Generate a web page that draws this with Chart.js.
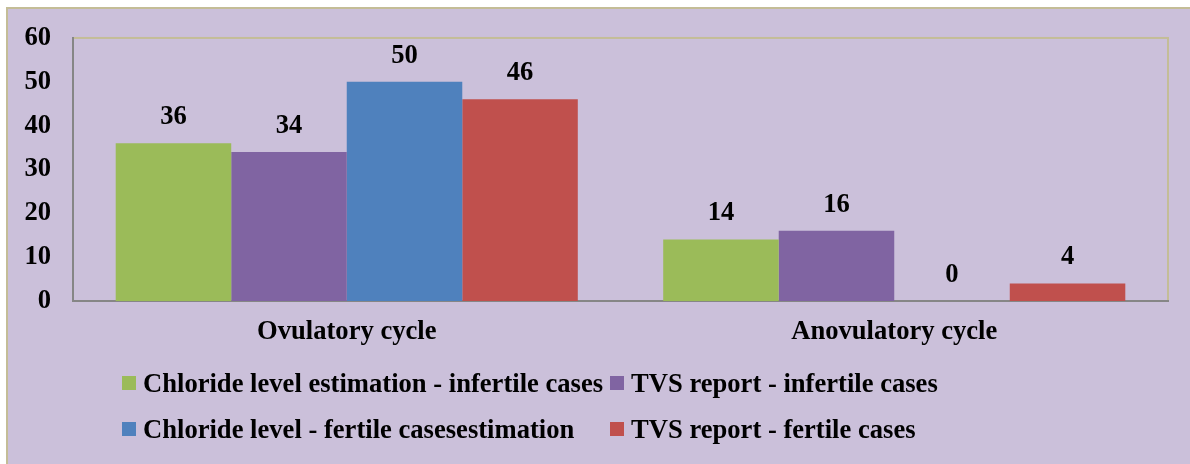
<!DOCTYPE html>
<html>
<head>
<meta charset="utf-8">
<script src="https://cdn.jsdelivr.net/npm/chart.js@4.4.1/dist/chart.umd.min.js"></script>
<style>
    html, body { margin: 0; padding: 0; background: #ffffff; }
    #frame {
        position: absolute; left: 6px; top: 7px; width: 1184px; height: 457px;
        background: #cbc0da; border-left: 2px solid #c4bd97; border-top: 2px solid #c4bd97;
    }
    #wrap { position: absolute; left: 0; top: 0; width: 1190px; height: 464px; }
    #legend {
        position: absolute; left: 122px; top: 370px;
        display: grid; grid-template-columns: 488px auto; row-gap: 20px;
        font: bold 26.6px "Liberation Serif", "Times New Roman", serif; color: #000;
    }
    .item { display: flex; align-items: center; height: 26px; white-space: nowrap; }
    .box { width: 14px; height: 14px; margin-right: 7px; flex: none; }
</style>
</head>
<body>
<div id="frame"></div>
<div id="wrap"><canvas id="chart" width="1190" height="464"></canvas></div>
<div id="legend"></div>
<script>
// data
const categories = ['Ovulatory cycle', 'Anovulatory cycle'];
const seriesNames = [
    'Chloride level estimation - infertile cases',
    'TVS report - infertile cases',
    'Chloride level - fertile casesestimation',
    'TVS report - fertile cases'
];
const chlorideInfertile = [36, 14];
const tvsInfertile = [34, 16];
const chlorideFertile = [50, 0];
const tvsFertile = [46, 4];
const yTicks = [0, 10, 20, 30, 40, 50, 60];

const colors = ['#9bbb59', '#8064a2', '#4f81bd', '#c0504d'];
const seriesData = [chlorideInfertile, tvsInfertile, chlorideFertile, tvsFertile];
const FONT = '"Liberation Serif", "Times New Roman", serif';

// khaki frame round the plot area (gray axes are drawn over it)
const plotFrame = {
    id: 'plotFrame',
    beforeDraw(chart) {
        const a = chart.chartArea, ctx = chart.ctx;
        ctx.save();
        ctx.strokeStyle = '#c4bd97';
        ctx.lineWidth = 2;
        ctx.strokeRect(a.left, a.top, a.right - a.left, a.bottom - a.top);
        ctx.restore();
    }
};

// value labels above each bar
const barValues = {
    id: 'barValues',
    afterDatasetsDraw(chart) {
        const ctx = chart.ctx;
        ctx.save();
        ctx.font = 'bold 26.6px ' + FONT;
        ctx.fillStyle = '#000';
        ctx.textAlign = 'center';
        ctx.textBaseline = 'middle';
        chart.data.datasets.forEach((ds, i) => {
            chart.getDatasetMeta(i).data.forEach((bar, j) => {
                ctx.fillText(String(ds.data[j]), bar.x, bar.y - 26);
            });
        });
        ctx.restore();
    }
};

const chart = new Chart(document.getElementById('chart'), {
    type: 'bar',
    data: {
        labels: categories,
        datasets: seriesNames.map((name, i) => ({
            label: name,
            data: seriesData[i],
            backgroundColor: colors[i],
            borderWidth: 0,
            categoryPercentage: 0.844,
            barPercentage: 1
        }))
    },
    options: {
        responsive: false,
        animation: false,
        layout: { padding: { top: 36, right: 22, bottom: 113, left: 0 } },
        plugins: { legend: { display: false }, tooltip: { enabled: false } },
        scales: {
            x: {
                grid: { display: false, drawTicks: false },
                border: { color: '#868686', width: 2 },
                ticks: { color: '#000', padding: 15, font: { family: FONT, size: 26.6, weight: 'bold' } },
                afterFit: s => { s.height = 50; }
            },
            y: {
                min: 0, max: 60,
                afterBuildTicks: s => { s.ticks = yTicks.map(v => ({ value: v })); },
                grid: { display: false, drawTicks: false },
                border: { color: '#868686', width: 2 },
                ticks: { color: '#000', padding: 22, font: { family: FONT, size: 26.6, weight: 'bold' } },
                afterFit: s => { s.width = 73; }
            }
        }
    },
    plugins: [plotFrame, barValues]
});

// legend laid out in two aligned columns, like the reference
const legend = document.getElementById('legend');
chart.data.datasets.forEach(ds => {
    const item = document.createElement('div');
    item.className = 'item';
    const box = document.createElement('span');
    box.className = 'box';
    box.style.background = ds.backgroundColor;
    item.appendChild(box);
    item.appendChild(document.createTextNode(ds.label));
    legend.appendChild(item);
});
</script>
</body>
</html>
